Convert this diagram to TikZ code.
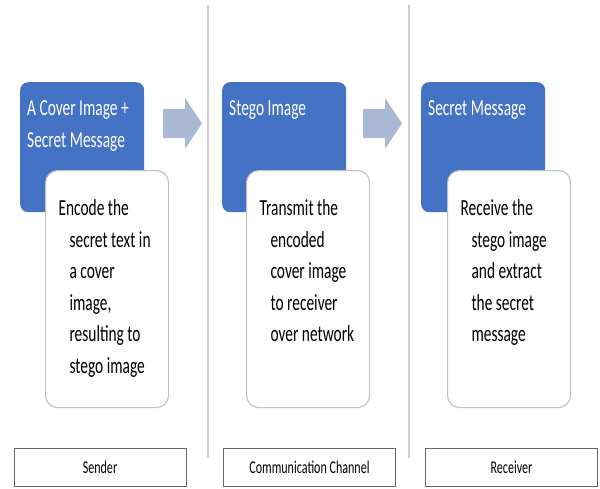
\documentclass[tikz,border=0pt]{standalone}
\usepackage{fontspec}
\setmainfont{Carlito}[FakeStretch=0.67]
\usetikzlibrary{positioning}

\definecolor{boxblue}{RGB}{68,114,196}
\definecolor{arrowblue}{RGB}{170,186,214}
\definecolor{sepgray}{RGB}{205,205,205}
\definecolor{framegray}{RGB}{192,192,192}

% text of the blue title boxes and of the white step boxes
\newcommand{\titletext}[1]{\parbox[t][114pt][t]{110pt}{\raggedright\rule{0pt}{25pt}#1}}
\newcommand{\steptext}[1]{\parbox[t][221pt][t]{97pt}{\hangindent=11pt\hangafter=1\rule{0pt}{37pt}#1}}

\begin{document}
\begin{tikzpicture}[
    x=1pt, y=-1pt,
    % boxes
    title/.style={rectangle, rounded corners=8pt, fill=boxblue, text=white, anchor=north west,
                  inner xsep=7pt, inner ysep=8pt, font=\fontsize{23}{32}\selectfont},
    stepbox/.style={rectangle, rounded corners=12pt, fill=white, draw=framegray, line width=1.1pt,
                  anchor=north west, inner xsep=13pt, inner ysep=8pt, font=\fontsize{23}{31.6}\selectfont},
    role/.style={rectangle, draw=black!60, line width=1pt, fill=white, minimum width=172pt,
                  minimum height=38pt, inner sep=0pt, font=\fontsize{18}{20}\selectfont},
    % lines
    sepline/.style={sepgray, line width=1.3pt},
    blockarr/.style={fill=arrowblue},
  ]
  \useasboundingbox (0,0) rectangle (600,488);

  % column separators
  \draw[sepline] (208,5) -- (208,458);
  \draw[sepline] (409,5) -- (409,458);

  \node (cover)  [title] at (20,82)  {\titletext{A Cover Image +\\Secret Message}};
  \node (stego)  [title] at (222,82) {\titletext{Stego Image}};
  \node (secret) [title] at (421,82) {\titletext{Secret Message}};

  \node (encode)   [stepbox] at (45,170)  {\steptext{Encode the\\secret text in\\a cover\\image,\\resulting to\\stego image}};
  \node (transmit) [stepbox] at (246,170) {\steptext{Transmit the\\encoded\\cover image\\to receiver\\over network}};
  \node (receive)  [stepbox] at (447,170) {\steptext{Receive the\\stego image\\and extract\\the secret\\message}};

  % block arrows between the columns
  \foreach \x in {163,363}
    \fill[blockarr] (\x,109) -- (\x+22,109) -- (\x+22,98) -- (\x+39,123.5)
                    -- (\x+22,149) -- (\x+22,138) -- (\x,138) -- cycle;

  \node (sender)   [role] at (100,467)   {Sender};
  \node (channel)  [role] at (309.5,467) {Communication Channel};
  \node (receiver) [role] at (511.5,467) {Receiver};

\end{tikzpicture}
\end{document}
